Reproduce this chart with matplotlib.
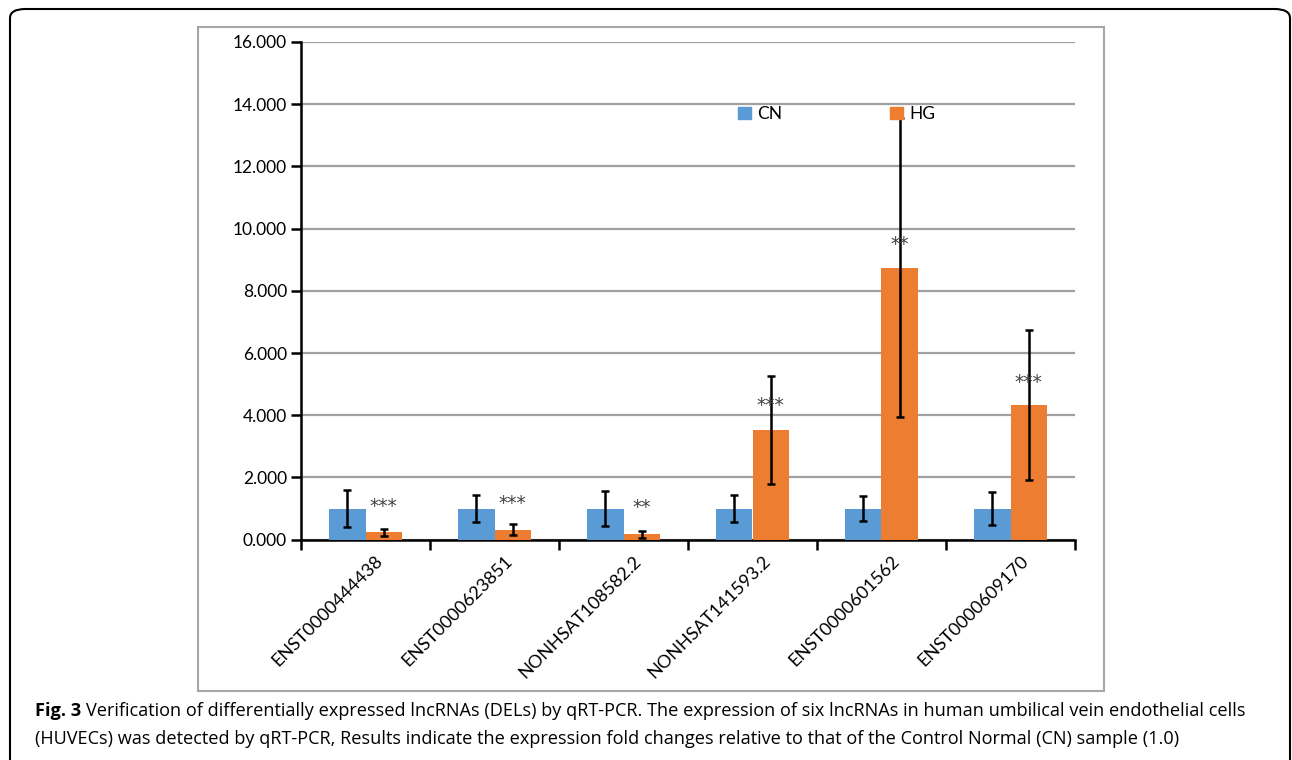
import numpy as np
import matplotlib
matplotlib.use("Agg")
import matplotlib.pyplot as plt
from matplotlib.patches import FancyBboxPatch, Rectangle, Patch
from matplotlib.transforms import ScaledTranslation

plt.rcParams['font.family'] = ['Lato', 'DejaVu Sans']

genes = ["ENST0000444438", "ENST0000623851", "NONHSAT108582.2",
         "NONHSAT141593.2", "ENST0000601562", "ENST0000609170"]
cn_vals = [1.0, 1.0, 1.0, 1.0, 1.0, 1.0]
cn_err = [0.585, 0.43, 0.57, 0.43, 0.39, 0.52]
hg_vals = [0.235, 0.32, 0.17, 3.52, 8.74, 4.32]
hg_err = [0.12, 0.18, 0.11, 1.74, 4.81, 2.41]
sig = ["***", "***", "**", "***", "**", "***"]
sig_y = [1.08, 1.15, 1.02, 4.3, 9.5, 5.05]
yticks = [0, 2, 4, 6, 8, 10, 12, 14, 16]

W, H = 1292, 760
fig = plt.figure(figsize=(W / 100, H / 100), dpi=100)

# outer rounded frame (open at bottom)
frame = FancyBboxPatch((10 / W, -0.1), 1280 / W, 1 - 9 / H + 0.1,
                       boxstyle="round,pad=0,rounding_size=0.012",
                       transform=fig.transFigure, fill=False,
                       edgecolor="black", linewidth=1.5)
fig.patches.append(frame)

# chart box
fig.patches.append(Rectangle((198 / W, 1 - 691 / H), 906 / W, 664 / H,
                             transform=fig.transFigure, fill=False,
                             edgecolor="#a6a6a6", linewidth=1.5))

ax = fig.add_axes([301 / W, 1 - 539.6 / H, 774 / W, (539.6 - 42) / H])
x = np.arange(len(genes))
bw = 0.283
ekw = dict(elinewidth=1.8, capthick=1.8, ecolor="black")
ax.bar(x - bw / 2, cn_vals, bw, yerr=cn_err, capsize=3, color="#5b9bd5",
       error_kw=ekw, label="CN", zorder=3)
ax.bar(x + bw / 2, hg_vals, bw, yerr=hg_err, capsize=3, color="#ed7d31",
       error_kw=ekw, label="HG", zorder=3)

for i in range(len(genes)):
    ax.text(x[i] + bw / 2, sig_y[i], sig[i], ha="center", va="center",
            fontsize=13.5, color="#404040", family="DejaVu Sans", zorder=4)

ax.set_xlim(-0.5, len(genes) - 0.5)
ax.set_ylim(0, 16)
ax.set_yticks(yticks)
ax.set_yticklabels(["%.3f" % v for v in yticks], fontsize=12.5)
ax.yaxis.grid(True, color="#a0a0a0", linewidth=1.6, zorder=0)
ax.set_axisbelow(True)

ax.set_xticks(np.arange(-0.5, len(genes)))
ax.set_xticklabels([])
ax.tick_params(axis="x", direction="out", length=7, width=1.8)
ax.tick_params(axis="y", direction="out", length=7, width=1.8, pad=3)
for s in ["top", "right"]:
    ax.spines[s].set_visible(False)
for s in ["left", "bottom"]:
    ax.spines[s].set_linewidth(1.8)

off = ScaledTranslation(15 / 100, -19 / 100, fig.dpi_scale_trans)
for i, g in enumerate(genes):
    ax.text(x[i], 0, g, transform=ax.get_xaxis_transform() + off,
            rotation=45, rotation_mode="anchor", ha="right", va="center",
            fontsize=13)

handles = [Patch(color="#5b9bd5", label="CN"), Patch(color="#ed7d31", label="HG")]
ax.legend(handles=handles, ncol=2, frameon=False, fontsize=12.5,
          loc="upper left", bbox_to_anchor=(738 / W, 1 - 106 / H),
          bbox_transform=fig.transFigure, borderpad=0, borderaxespad=0,
          handlelength=0.75, handleheight=0.75, handletextpad=0.35,
          columnspacing=6.2)

# caption
cap_kw = dict(family=["Open Sans", "DejaVu Sans"], fontsize=13.1, va="center")
t1 = fig.text(35 / W, 1 - 711 / H, "Fig. 3", fontweight="bold", **cap_kw)
fig.canvas.draw()
bb = t1.get_window_extent()
fig.text(bb.x1 / W + 5 / W, 1 - 711 / H,
         "Verification of differentially expressed lncRNAs (DELs) by qRT-PCR. "
         "The expression of six lncRNAs in human umbilical vein endothelial cells",
         **cap_kw)
fig.text(35 / W, 1 - 739 / H,
         "(HUVECs) was detected by qRT-PCR, Results indicate the expression fold "
         "changes relative to that of the Control Normal (CN) sample (1.0)",
         **cap_kw)

fig.savefig("out.png", dpi=100)
